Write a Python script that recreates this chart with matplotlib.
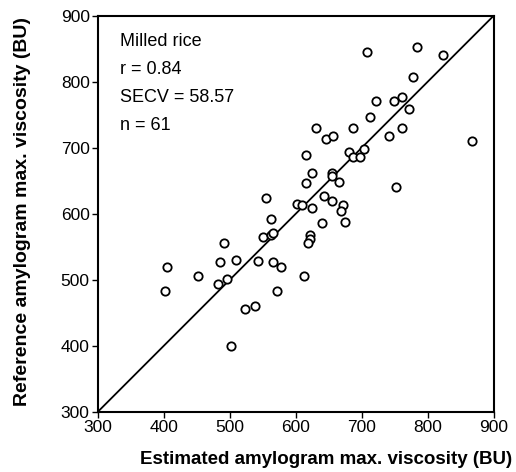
import numpy as np
import matplotlib.pyplot as plt

plt.rcParams['font.family'] = ['Liberation Sans', 'DejaVu Sans']

# estimated vs reference amylogram max. viscosity (BU)
estimated = [708, 783, 823, 777, 721, 749, 761, 771, 712, 687,
             631, 646, 656, 741, 761, 867, 680, 687, 697, 703,
             616, 624, 616, 654, 655, 665, 752, 624, 643, 655,
             671, 669, 675, 640, 554, 601, 609, 562, 550, 562,
             566, 622, 622, 619, 543, 566, 578, 612, 491, 405,
             452, 402, 485, 509, 482, 495, 572, 523, 538, 501]
reference = [845, 852, 840, 807, 771, 771, 776, 759, 746, 730,
             730, 713, 718, 718, 730, 710, 694, 686, 686, 698,
             688, 661, 646, 661, 657, 648, 640, 609, 626, 619,
             613, 604, 588, 585, 624, 615, 613, 592, 564, 567,
             571, 568, 561, 555, 528, 527, 519, 506, 556, 519,
             506, 482, 527, 530, 493, 501, 482, 455, 460, 400]

ticks = [300, 400, 500, 600, 700, 800, 900]

fig = plt.figure(figsize=(5.16, 4.72), dpi=100)
ax = fig.add_axes([0.19, 0.128, 0.767, 0.839])

ax.plot([300, 900], [300, 900], color='black', lw=1.3, zorder=1)
ax.plot(estimated, reference, 'o', mfc='white', mec='black',
        ms=6, mew=1.3, zorder=2)

ax.set_xlim(300, 900)
ax.set_ylim(300, 900)
ax.set_xticks(ticks)
ax.set_yticks(ticks)
ax.tick_params(direction='out', length=4, width=1, labelsize=12.5, pad=2)
for s in ax.spines.values():
    s.set_linewidth(1.5)

ax.set_xlabel('Estimated amylogram max. viscosity (BU)', fontsize=13.5,
              fontweight='bold')
ax.xaxis.set_label_coords(0.575, -0.1)
ax.set_ylabel('Reference amylogram max. viscosity (BU)', fontsize=14,
              fontweight='bold')
ax.yaxis.set_label_coords(-0.17, 0.505)

info = ['Milled rice', 'r = 0.84', 'SECV = 58.57', 'n = 61']
for i, t in enumerate(info):
    ax.text(0.055, 0.935 - i * 0.071, t, transform=ax.transAxes,
            fontsize=13, va='center', ha='left')

fig.savefig('out.png', dpi=100)
